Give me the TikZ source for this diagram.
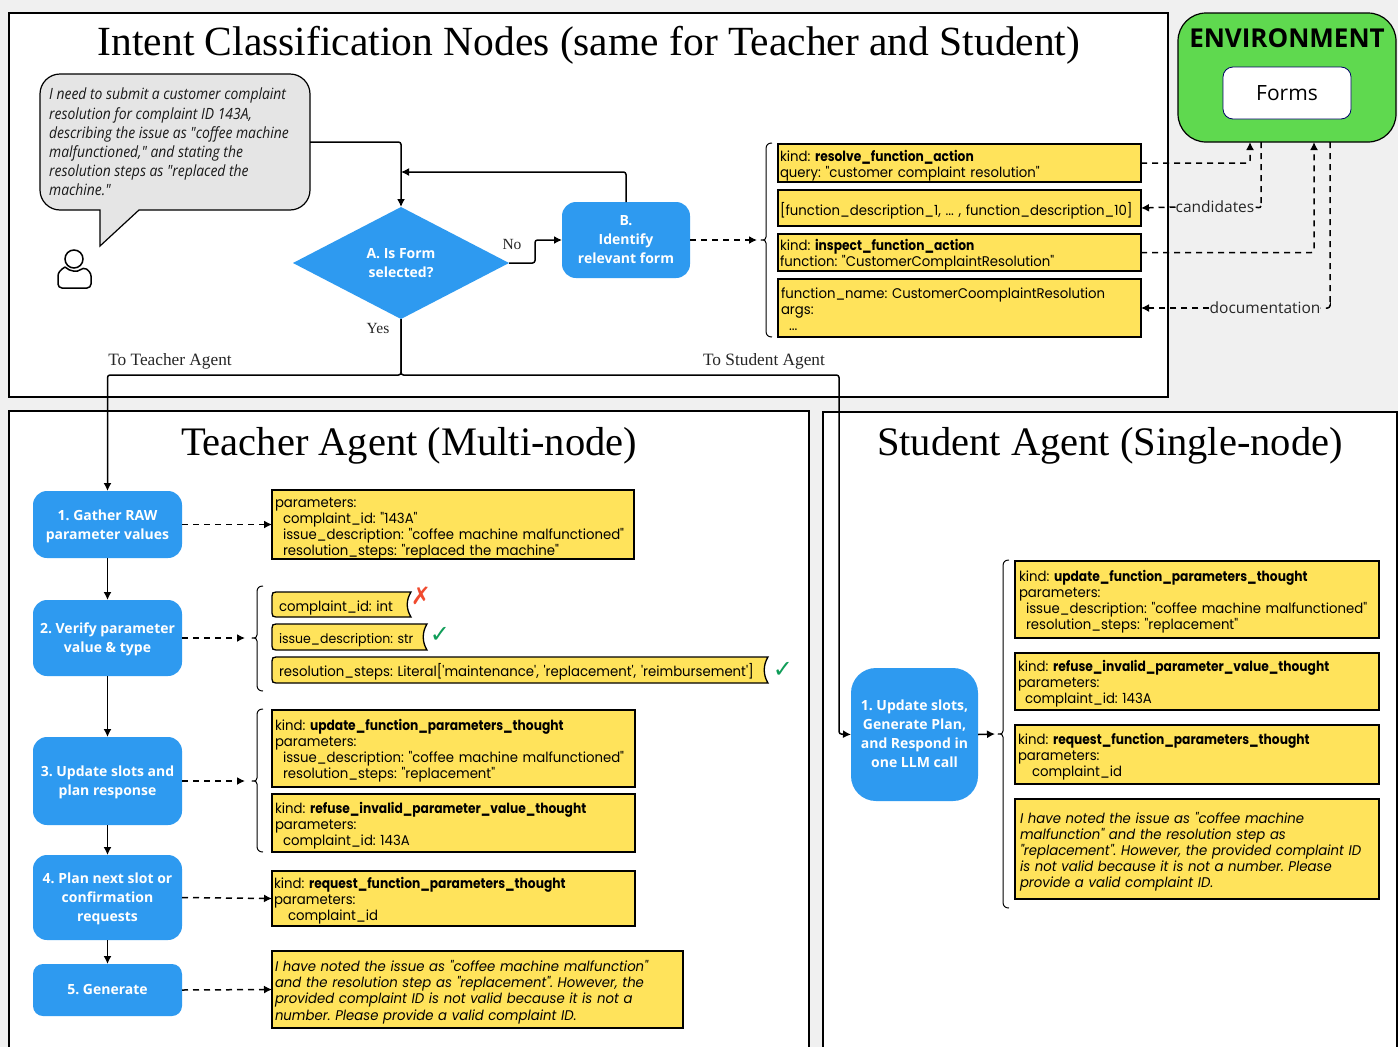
\documentclass[tikz,border=0pt]{standalone}
\usepackage{fontspec}
\usetikzlibrary{arrows.meta,calc,shapes.geometric}
\setmainfont{Liberation Serif}
\newfontfamily\pop[FakeStretch=0.948,BoldFeatures={FakeStretch=0.875}]{Poppins}
\newfontfamily\opn{Open Sans}
\newfontfamily\opni[FakeStretch=0.897]{Open Sans}
\newfontfamily\djv{DejaVu Sans}
\frenchspacing
\definecolor{pagegray}{HTML}{F0F0F0}
\definecolor{blueN}{HTML}{2E9AF0}
\definecolor{yel}{HTML}{FFE35B}
\definecolor{grn}{HTML}{5FD94F}
\definecolor{bub}{HTML}{E5E5E5}
\definecolor{markred}{HTML}{F04A2E}
\definecolor{markgrn}{HTML}{0F9D58}
\tikzset{
  panel/.style={draw=black,line width=1.7pt,fill=white},
  title/.style={font=\fontsize{41.5}{44}\selectfont,inner sep=0pt},
  subtitle/.style={font=\fontsize{40.5}{44}\selectfont,inner sep=0pt},
  ybox/.style={draw=black,line width=1.8pt,fill=yel,anchor=north west,outer sep=0pt,inner sep=0pt,
    font=\pop\fontsize{14}{16}\selectfont,align=left},
  tbox/.style={anchor=north west,outer sep=0pt,inner sep=0pt,font=\pop\fontsize{14}{16}\selectfont,align=left},
  bluebox/.style={fill=blueN,anchor=north west,outer sep=0pt,inner sep=0pt,text=white,
    font=\opn\bfseries\fontsize{14}{19}\selectfont,align=center},
  conn/.style={draw=black,line width=1.5pt,rounded corners=2.5pt,-{Latex[length=8pt,width=8pt]}},
  dconn/.style={conn,dash pattern=on 6pt off 5pt},
  plainline/.style={draw=black,line width=1.5pt,rounded corners=2.5pt},
  dline/.style={plainline,dash pattern=on 6pt off 5pt},
  brac/.style={draw=black,line width=1pt,line join=round},
  lab/.style={font=\fontsize{15.5}{18}\selectfont,inner sep=0pt,text=black!85},
  biglab/.style={font=\fontsize{17.3}{18}\selectfont,inner sep=0pt,text=black!85},
  ulab/.style={font=\opn\fontsize{15.5}{18}\selectfont,inner sep=0pt,text=black!85},
  marksym/.style={font=\djv\fontsize{24}{24}\selectfont,inner sep=0pt},
}
\def\yshift{2.5}
% name, x1, y1, x2, y2, left pad, text
\newcommand{\Ybox}[7]{%
  \pgfmathsetlengthmacro{\bw}{#4-#2}\pgfmathsetlengthmacro{\bh}{#5-#3}%
  \pgfmathsetlengthmacro{\bt}{#4-#2-#6}%
  \node[ybox,minimum width=\bw,minimum height=\bh,text width=\bw] (#1) at (#2,#3) {\hspace*{#6pt}\raisebox{-\yshift pt}[\height][\depth]{\parbox{\bt}{\raggedright #7}}};}
\newcommand{\Blue}[7]{%
  \pgfmathsetlengthmacro{\bw}{#4-#2}\pgfmathsetlengthmacro{\bh}{#5-#3}%
  \node[bluebox,minimum width=\bw,minimum height=\bh,rounded corners=#6pt] (#1) at (#2,#3) {#7};}
\newcommand{\Brace}[4]{% x, ytop, ymid, ybot
  \draw[brac] (#1+6,#2) .. controls (#1+2,#2) and (#1,#2+2) .. (#1,#2+6) -- (#1,#3-3)
    .. controls (#1,#3-1) and (#1-1,#3) .. (#1-5,#3)
    .. controls (#1-1,#3) and (#1,#3+1) .. (#1,#3+3) -- (#1,#4-6)
    .. controls (#1,#4-2) and (#1+2,#4) .. (#1+6,#4);}
\newcommand{\Tbox}[7]{% name x1 y1 x2 y2 shift text
  \pgfmathsetlengthmacro{\bw}{#4-#2}\pgfmathsetlengthmacro{\bh}{#5-#3}%
  \draw[black,fill=yel,line width=1.3pt] (#2+4,#3) -- (#4,#3) .. controls (#4-5,#3+8) and (#4-5,#5-8) .. (#4,#5) -- (#2+4,#5)
     .. controls (#2+1,#5) and (#2,#5-1) .. (#2,#5-4) -- (#2,#3+4) .. controls (#2,#3+1) and (#2+1,#3) .. (#2+4,#3) -- cycle;
  \node[tbox,minimum width=\bw,minimum height=\bh,text width=\bw] (#1) at (#2,#3) {\hspace*{7pt}\raisebox{-#6pt}[\height][\depth]{#7}};}
\newcommand{\kind}[1]{kind: \textbf{#1}}
\begin{document}
\begin{tikzpicture}[x=1pt,y=-1pt]
\useasboundingbox (0,0) rectangle (1398,1047);
\fill[pagegray] (0,0) rectangle (1398,1047);
% panels
\begin{scope}
\clip (0,0) rectangle (1398,1047);
\draw[panel] (9,13) rectangle (1168,397);
\draw[panel,line width=1.4pt] (9,411) rectangle (809,1060);
\draw[panel,line width=1.4pt] (823,412) rectangle (1397,1060);
\end{scope}
\node[title] (t1) at (589,45) {Intent Classification Nodes (same for Teacher and Student)};
\node[subtitle] (t2) at (409,445.5) {Teacher Agent (Multi-node)};
\node[subtitle] (t3) at (1110,445.5) {Student Agent (Single-node)};
% environment
\node[draw=black,line width=1.2pt,fill=grn,rounded corners=28pt,anchor=north west,minimum width=218pt,minimum height=129pt,outer sep=0pt] (env) at (1178,13) {};
\node[font=\opn\bfseries\fontsize{26}{30}\selectfont,inner sep=0pt] (envt) at (1287,38) {ENVIRONMENT};
\node[draw=blue!40!black,line width=.8pt,fill=white,rounded corners=10pt,minimum width=128pt,minimum height=52pt,outer sep=0pt,font=\opn\fontsize{21}{24}\selectfont] (forms) at (1287,93) {Forms};
% speech bubble
\draw[draw=black,line width=1.2pt,fill=bub,line join=miter]
  (100,246) -- (100,210) -- (60,210) .. controls (49,210) and (40,201) .. (40,190) -- (40,94)
  .. controls (40,83) and (49,74) .. (60,74) -- (290,74) .. controls (301,74) and (310,83) .. (310,94)
  -- (310,190) .. controls (310,201) and (301,210) .. (290,210) -- (139,210) -- cycle;
\node[anchor=north west,inner sep=0pt,font=\opni\itshape\fontsize{15.5}{19.2}\selectfont,align=left,text=black!90] (bubble) at (49,88)
 {I need to submit a customer complaint\\resolution for complaint ID 143A,\\describing the issue as "coffee machine\\malfunctioned," and stating the\\resolution steps as "replaced the\\machine."};
% person
\draw[line width=1.5pt] (74,259) circle (9);
\draw[line width=1.5pt,rounded corners=4pt] (65,267) .. controls (60,270) and (58,273) .. (58,280) -- (58,288) -- (91,288) -- (91,280) .. controls (91,273) and (88,270) .. (83,267) .. controls (78,272) and (70,272) .. (65,267);
% flow nodes
\node[diamond,fill=blueN,aspect=1.93,inner sep=0pt,minimum width=216pt,minimum height=112pt,outer sep=0pt,text=white,font=\opn\bfseries\fontsize{14}{19}\selectfont,align=center] (A) at (401,263) {A. Is Form\\selected?};
\Blue{B}{562}{202}{690}{278}{14}{B.\\Identify\\relevant form}
% top yellow
\Ybox{y1}{778}{144}{1141}{182}{2}{\kind{resolve\_function\_action}\\query: "customer complaint resolution"}
\Ybox{y2}{778}{190}{1141}{226}{2}{[function\_description\_1, ... , function\_description\_10]}
\Ybox{y3}{778}{234}{1141}{271}{2}{\kind{inspect\_function\_action}\\function: "CustomerComplaintResolution"}
\def\yshift{1.5}
\Ybox{y4}{778}{279}{1141}{337}{3}{function\_name: CustomerCoomplaintResolution\\args:\\\hspace*{8pt}...}
\def\yshift{2.5}
\Brace{766}{143}{240}{337}
% env labels
\node[ulab] (cand) at (1215,207) {candidates};
\node[ulab] (doc) at (1265,308) {documentation};
\coordinate (e1) at (1250,142);
\coordinate (e2) at (1261,142);
\coordinate (e3) at (1314,142);
\coordinate (e4) at (1330,142);
\coordinate (braceA) at (757,240);
\draw[dconn] (B.east) -- (braceA);
\draw[dconn] (y1.east) -| (e1);
\draw[dconn] (y3.east) -| (e3);
\draw[dline] (e2) -- (1261,204) -- (1261,208) -- (cand.east);
\draw[dconn] (cand.west) -- (y2.east);
\draw[dline] (e4) -- (1330,304) -- (1330,308) -- (doc.east);
\draw[dconn] (doc.west) -- (y4.east |- doc.west);
% flow connectors
\draw[conn] (310,142) -- (401,142) -- (A.north);
\draw[conn] (B.north) |- (401,172);
\draw[conn] (A.east) -- (535,263) -- (535,240) -- (B.west);
\node[lab] (no) at (512,244) {No};
\node[lab] (yes) at (378,328) {Yes};
\node[biglab] (tt) at (170,361) {To Teacher Agent};
\node[biglab] (ts) at (764,361) {To Student Agent};
% teacher
\Blue{T1}{33}{491}{182}{558}{14}{\rule{0pt}{15pt}1. Gather RAW\\parameter values}
\Blue{T2}{33}{600}{182}{676}{14}{\rule{0pt}{13pt}2. Verify parameter\\value \& type}
\Blue{T3}{33}{737}{182}{825}{14}{\rule{0pt}{13pt}3. Update slots and\\plan response}
\Blue{T4}{33}{855}{182}{940}{14}{\rule{0pt}{13pt}4. Plan next slot or\\confirmation\\requests}
\Blue{T5}{33}{964}{182}{1016}{10}{5. Generate}
\Blue{S1}{851}{668}{978}{801}{25}{1. Update slots,\\Generate Plan,\\and Respond in\\one LLM call\rule[-2pt]{0pt}{2pt}}
\draw[conn] (A.south) -- (401,375) -| (T1.north);
\draw[conn] (A.south) -- (401,375) -- (839,375) -- (839,734) -- (S1.west);
\draw[conn] (T1.south) -- (T2.north);
\draw[conn] (T2.south) -- (T3.north);
\draw[conn] (T3.south) -- (T4.north);
\draw[conn] (T4.south) -- (T5.north);
\def\yshift{4}
\Ybox{a1}{272}{490}{634}{559}{3}{parameters:\\\hspace*{8pt}complaint\_id: "143A"\\\hspace*{8pt}issue\_description: "coffee machine malfunctioned"\\\hspace*{8pt}resolution\_steps: "replaced the machine"}
\def\yshift{2.5}
\Tbox{b1}{272}{592}{411}{617}{3}{complaint\_id: int}
\Tbox{b2}{272}{624}{427}{650}{3}{\fontsize{13.2}{16}\selectfont issue\_description: str}
\Tbox{b3}{272}{657}{768}{683}{1.5}{resolution\_steps: Literal['maintenance', 'replacement', 'reimbursement']}
\node[marksym,text=markred] (x1) at (421,596) {✗};
\node[marksym,text=markgrn] (c1) at (440,635) {✓};
\node[marksym,text=markgrn] (c2) at (783,670) {✓};
\Brace{257}{586}{638}{691}
\Ybox{c31}{272}{710}{635}{787}{3}{\kind{update\_function\_parameters\_thought}\\parameters:\\\hspace*{8pt}issue\_description: "coffee machine malfunctioned"\\\hspace*{8pt}resolution\_steps: "replacement"}
\Ybox{c32}{272}{794}{635}{852}{3}{\kind{refuse\_invalid\_parameter\_value\_thought}\\parameters:\\\hspace*{8pt}complaint\_id: 143A}
\Brace{257}{709}{781}{852}
\Ybox{d1}{272}{871}{635}{926}{2}{\kind{request\_function\_parameters\_thought}\\parameters:\\\hspace*{14pt}complaint\_id}
\Ybox{e5}{272}{951}{683}{1028}{3}{\fontsize{14}{16.4}\selectfont\itshape I have noted the issue as "coffee machine malfunction"\\and the resolution step as "replacement". However, the\\provided complaint ID is not valid because it is not a\\number. Please provide a valid complaint ID.}
\coordinate (br2) at (245,638);
\coordinate (br3) at (245,781);
\draw[dconn] (T1.east) -- (a1.west);
\draw[dconn] (T2.east) -- (br2);
\draw[dconn] (T3.east) -- (br3);
\draw[dconn] (T4.east) -- (d1.west);
\draw[dconn] (T5.east) -- (e5.west);
% student
\Ybox{s1}{1015}{561}{1379}{638}{4}{\kind{update\_function\_parameters\_thought}\\parameters:\\\hspace*{7pt}issue\_description: "coffee machine malfunctioned"\\\hspace*{7pt}resolution\_steps: "replacement"}
\Ybox{s2}{1015}{653}{1379}{710}{3}{\kind{refuse\_invalid\_parameter\_value\_thought}\\parameters:\\\hspace*{7pt}complaint\_id: 143A}
\Ybox{s3}{1015}{725}{1379}{784}{3}{\kind{request\_function\_parameters\_thought}\\parameters:\\\hspace*{14pt}complaint\_id}
\Ybox{s4}{1015}{799}{1379}{899}{5}{\itshape I have noted the issue as "coffee machine\\malfunction" and the resolution step as\\"replacement". However, the provided complaint ID\\is not valid because it is not a number. Please\\provide a valid complaint ID.}
\Brace{1003}{560}{734}{908}
\coordinate (br4) at (995,734);
\draw[conn] (S1.east) -- (br4);
\end{tikzpicture}
\end{document}
